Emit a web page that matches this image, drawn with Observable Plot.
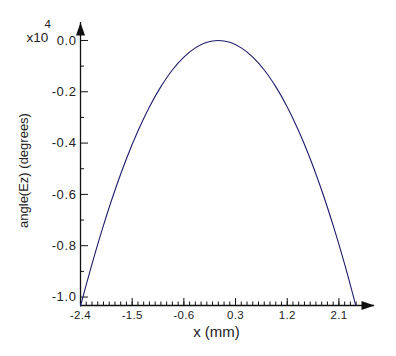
<!DOCTYPE html>
<html>
<head>
<meta charset="utf-8">
<script src="https://cdn.jsdelivr.net/npm/d3@7"></script>
<script src="https://cdn.jsdelivr.net/npm/@observablehq/plot@0.6"></script>
<style>
  html, body { margin: 0; padding: 0; background: #fff; }
  #chart svg { display: block; }
  g[aria-label="y-axis tick label"] text { letter-spacing: 0.6px; }
  g[aria-label="x-axis tick label"] text { letter-spacing: 0.3px; }
</style>
</head>
<body>
<div id="chart"></div>
<script>
// Curve samples: x in mm, angle(Ez) in units of 1e4 degrees
const xs = [-2.4, -2.2, -2.0, -1.8, -1.6, -1.4, -1.2, -1.0, -0.8, -0.6, -0.4, -0.2, 0.0, 0.2, 0.4, 0.6, 0.8, 1.0, 1.2, 1.4, 1.6, 1.8, 2.0, 2.2, 2.39];
const ys = [-1.035, -0.872, -0.721, -0.584, -0.461, -0.353, -0.259, -0.180, -0.115, -0.065, -0.029, -0.007, 0.0, -0.007, -0.029, -0.065, -0.115, -0.180, -0.259, -0.353, -0.461, -0.584, -0.721, -0.872, -1.03];

// Axis extents and ticks
const xDomain = [-2.4, 2.72];
const yDomain = [-1.033, 0.07];
const xMajorTicks = [-2.4, -1.5, -0.6, 0.3, 1.2, 2.1];
const xMinorTicks = d3.range(-24, 25).map(i => i / 10);
const yMajorTicks = [0.0, -0.2, -0.4, -0.6, -0.8, -1.0];
const yMinorTicks = [-0.1, -0.3, -0.5, -0.7, -0.9];

const xLabel = "x (mm)";
const yLabel = "angle(Ez) (degrees)";
const scaleLabel = "x10";
const scaleExp = "4";

const curve = xs.map((x, i) => ({x, y: ys[i]}));
const fmt = d => d.toFixed(1);

// elongated filled arrowhead, tip at origin pointing up
const arrowHead = {
  draw(ctx, size) {
    ctx.moveTo(0, 0);
    ctx.lineTo(4.5, 13);
    ctx.lineTo(-4.5, 13);
    ctx.closePath();
  }
};

const font = "Arial, 'Liberation Sans', sans-serif";
const ink = "#111";

const chart = Plot.plot({
  width: 396,
  height: 356,
  marginLeft: 80,
  marginRight: 22,
  marginTop: 22,
  marginBottom: 51,
  style: {fontFamily: font, background: "#fff", color: ink},
  x: {domain: xDomain, axis: null},
  y: {domain: yDomain, axis: null},
  marks: [
    // axis lines
    Plot.ruleY([yDomain[0]], {x1: xDomain[0], x2: xDomain[1], stroke: ink, strokeWidth: 1.3}),
    Plot.ruleX([xDomain[0]], {y1: yDomain[0], y2: yDomain[1], stroke: ink, strokeWidth: 1.3}),
    // arrowheads
    Plot.dot([{x: xDomain[0], y: yDomain[1]}], {x: "x", y: "y", symbol: arrowHead, fill: ink, stroke: "none", r: 4}),
    Plot.dot([{x: xDomain[1], y: yDomain[0]}], {x: "x", y: "y", symbol: arrowHead, fill: ink, stroke: "none", r: 4, rotate: 90}),
    // x ticks (upward, inside)
    Plot.axisX(xMinorTicks, {anchor: "bottom", tickSize: -3.5, text: null, stroke: ink, label: null}),
    Plot.axisX(xMajorTicks, {anchor: "bottom", tickSize: -7, text: null, stroke: ink, label: null}),
    Plot.axisX(xMajorTicks, {anchor: "bottom", tickSize: 0, tickPadding: 5, tickFormat: fmt, fontSize: 11.5, fill: "#222", label: null}),
    // y ticks (rightward, inside)
    Plot.axisY(yMinorTicks, {anchor: "left", tickSize: -4, text: null, stroke: ink, label: null}),
    Plot.axisY(yMajorTicks, {anchor: "left", tickSize: -8, text: null, stroke: ink, label: null}),
    Plot.axisY(yMajorTicks, {anchor: "left", tickSize: 0, tickPadding: 4, tickFormat: fmt, fontSize: 13, fill: "#222", label: null}),
    // curve
    Plot.line(curve, {x: "x", y: "y", curve: "catmull-rom", stroke: "#1c1c6e", strokeWidth: 1.1}),
    // labels
    Plot.text([xLabel], {frameAnchor: "bottom", lineAnchor: "middle", textAnchor: "middle", dx: -11, dy: 27, fontSize: 15, fill: "#222"}),
    Plot.text([yLabel], {frameAnchor: "left", lineAnchor: "middle", textAnchor: "middle", rotate: -90, dx: -57, dy: 6.5, fontSize: 13, fill: "#222"}),
    Plot.text([scaleLabel], {frameAnchor: "top-left", lineAnchor: "bottom", dx: -54, dy: 19, fontSize: 13.5, textAnchor: "start", fill: "#222"}),
    Plot.text([scaleExp], {frameAnchor: "top-left", lineAnchor: "bottom", dx: -36, dy: 5, fontSize: 11.5, textAnchor: "start", fill: "#222"})
  ]
});
document.getElementById("chart").appendChild(chart);
</script>
</body>
</html>
